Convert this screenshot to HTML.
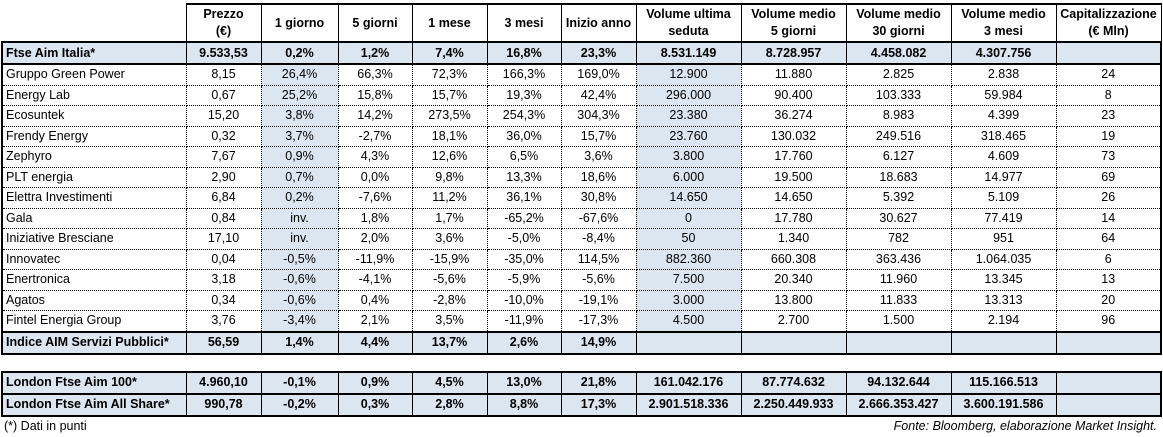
<!DOCTYPE html>
<html><head><meta charset="utf-8"><style>
body{margin:0;background:#fff;width:1163px;height:437px;overflow:hidden;font-family:"Liberation Sans",sans-serif;font-size:12.5px;color:#000;position:relative}
table{position:absolute;left:1px;top:3px;border-collapse:collapse;table-layout:fixed}
td{padding:0 3px;text-align:center;white-space:nowrap;overflow:hidden;border-left:1px dotted #000;border-right:1px dotted #000;border-top:1px dotted #000;border-bottom:1px dotted #000;height:19.5px;line-height:19px}
td.l{text-align:left;border-left:2px solid #000}
td.last{border-right:2px solid #000}
tr.hd td{height:36px;line-height:17px;font-weight:bold;border:1px solid #000;border-top:2px solid #000;white-space:nowrap}
tr.hd td.empty{border:none;border-bottom:2px solid #000}
tr.b td{font-weight:bold;background:#dce6f1;border-top:2px solid #000;border-bottom:2px solid #000;border-left:1px solid #000;border-right:1px solid #000;height:20px}
tr.b td.l{border-left:2px solid #000}
tr.b td.last{border-right:2px solid #000}
tr.b.pair td{border-top:1px solid #000}
tr.b.pair.first td{border-top:2px solid #000}
tr.b.pair.lastrow td{border-bottom:2px solid #000}
td.s{background:#dce6f1}
tr.gap td{border:none;height:16px;background:none}
.foot{position:absolute;top:419px;font-size:12.5px}
</style></head><body>
<table>
<colgroup><col style="width:184px"><col style="width:75px"><col style="width:77px"><col style="width:74px"><col style="width:75px"><col style="width:74px"><col style="width:75px"><col style="width:105px"><col style="width:105px"><col style="width:105px"><col style="width:105px"><col style="width:105px"></colgroup>
<tr class="hd"><td class="empty"></td><td>Prezzo<br>(€)</td><td>1 giorno</td><td>5 giorni</td><td>1 mese</td><td>3 mesi</td><td>Inizio anno</td><td>Volume ultima<br>seduta</td><td>Volume medio<br>5 giorni</td><td>Volume medio<br>30 giorni</td><td>Volume medio<br>3 mesi</td><td class="last">Capitalizzazione<br>(€ Mln)</td></tr>
<tr class="b"><td class="l">Ftse Aim Italia*</td><td>9.533,53</td><td>0,2%</td><td>1,2%</td><td>7,4%</td><td>16,8%</td><td>23,3%</td><td>8.531.149</td><td>8.728.957</td><td>4.458.082</td><td>4.307.756</td><td class="last"></td></tr>
<tbody id="rows"></tbody>
<tr class="b"><td class="l">Indice AIM Servizi Pubblici*</td><td>56,59</td><td>1,4%</td><td>4,4%</td><td>13,7%</td><td>2,6%</td><td>14,9%</td><td></td><td></td><td></td><td></td><td class="last"></td></tr>
<tr class="gap"><td colspan="12"></td></tr>
<tr class="b pair first"><td class="l">London Ftse Aim 100*</td><td>4.960,10</td><td>-0,1%</td><td>0,9%</td><td>4,5%</td><td>13,0%</td><td>21,8%</td><td>161.042.176</td><td>87.774.632</td><td>94.132.644</td><td>115.166.513</td><td class="last"></td></tr>
<tr class="b pair lastrow"><td class="l">London Ftse Aim All Share*</td><td>990,78</td><td>-0,2%</td><td>0,3%</td><td>2,8%</td><td>8,8%</td><td>17,3%</td><td>2.901.518.336</td><td>2.250.449.933</td><td>2.666.353.427</td><td>3.600.191.586</td><td class="last"></td></tr>
</table>
<div class="foot" style="left:4px">(*) Dati in punti</div>
<div class="foot" style="right:6px;font-style:italic">Fonte: Bloomberg, elaborazione Market Insight.</div>
<script>
const names=["Gruppo Green Power","Energy Lab","Ecosuntek","Frendy Energy","Zephyro","PLT energia","Elettra Investimenti","Gala","Iniziative Bresciane","Innovatec","Enertronica","Agatos","Fintel Energia Group"];
const prezzo=["8,15","0,67","15,20","0,32","7,67","2,90","6,84","0,84","17,10","0,04","3,18","0,34","3,76"];
const g1=["26,4%","25,2%","3,8%","3,7%","0,9%","0,7%","0,2%","inv.","inv.","-0,5%","-0,6%","-0,6%","-3,4%"];
const g5=["66,3%","15,8%","14,2%","-2,7%","4,3%","0,0%","-7,6%","1,8%","2,0%","-11,9%","-4,1%","0,4%","2,1%"];
const m1=["72,3%","15,7%","273,5%","18,1%","12,6%","9,8%","11,2%","1,7%","3,6%","-15,9%","-5,6%","-2,8%","3,5%"];
const m3=["166,3%","19,3%","254,3%","36,0%","6,5%","13,3%","36,1%","-65,2%","-5,0%","-35,0%","-5,9%","-10,0%","-11,9%"];
const ytd=["169,0%","42,4%","304,3%","15,7%","3,6%","18,6%","30,8%","-67,6%","-8,4%","114,5%","-5,6%","-19,1%","-17,3%"];
const vol=["12.900","296.000","23.380","23.760","3.800","6.000","14.650","0","50","882.360","7.500","3.000","4.500"];
const v5=["11.880","90.400","36.274","130.032","17.760","19.500","14.650","17.780","1.340","660.308","20.340","13.800","2.700"];
const v30=["2.825","103.333","8.983","249.516","6.127","18.683","5.392","30.627","782","363.436","11.960","11.833","1.500"];
const v3m=["2.838","59.984","4.399","318.465","4.609","14.977","5.109","77.419","951","1.064.035","13.345","13.313","2.194"];
const cap=["24","8","23","19","73","69","26","14","64","6","13","20","96"];
const tb=document.getElementById('rows');
names.forEach((n,i)=>{
  const tr=document.createElement('tr');
  
  
  const vals=[n,prezzo[i],g1[i],g5[i],m1[i],m3[i],ytd[i],vol[i],v5[i],v30[i],v3m[i],cap[i]];
  vals.forEach((v,j)=>{
    const td=document.createElement('td');
    
    
    td.textContent=v;
    if(j===0)td.className='l';
    if(j===11)td.className='last';
    if(j===2||j===7)td.classList.add('s');
    tr.appendChild(td);
  });
  tb.appendChild(tr);
});
</script>
</body></html>
